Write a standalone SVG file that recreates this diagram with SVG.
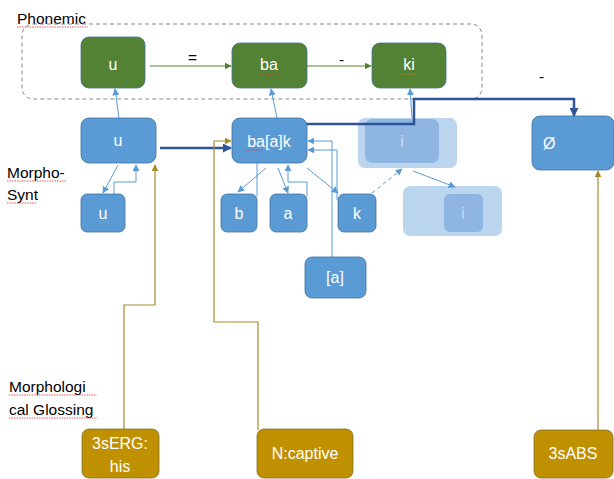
<svg xmlns="http://www.w3.org/2000/svg" width="614" height="479" viewBox="0 0 614 479">
<style>
  text { font-family: "Liberation Sans", Arial, sans-serif; }
  .lbl { font-size: 15.5px; fill: #000; }
  .wt { font-size: 16px; fill: #fff; text-anchor: middle; }
  .green { fill: #548235; stroke: #41719C; stroke-width: 0.8; }
  .blue { fill: #5B9BD5; stroke: #41719C; stroke-width: 0.8; }
  .gold { fill: #BF9000; stroke: #7F6F30; stroke-width: 0.8; }
  .fadeOut { fill: #BCD5EF; }
  .fadeIn { fill: #8FB5E3; }
  .fadeTxt { font-size: 16px; fill: #C8DCF2; text-anchor: middle; }
  .thin { fill: none; stroke: #5B9BD5; stroke-width: 1; }
  .gln { fill: none; stroke: #548235; stroke-width: 1; }
  .gd { fill: none; stroke: #A88C2C; stroke-width: 1.2; }
  .thick { fill: none; stroke: #2F5597; stroke-width: 2.5; }
  .squig { fill: none; stroke: #E03030; stroke-width: 0.8; stroke-dasharray: 1.5 1; }
</style>
<defs>
  <marker id="ab" viewBox="0 0 10 10" refX="9" refY="5" markerWidth="7" markerHeight="7" orient="auto-start-reverse" markerUnits="userSpaceOnUse">
    <path d="M0,0 L10,5 L0,10 z" fill="#5B9BD5"/>
  </marker>
  <marker id="ag" viewBox="0 0 10 10" refX="9" refY="5" markerWidth="7" markerHeight="7" orient="auto" markerUnits="userSpaceOnUse">
    <path d="M0,0 L10,5 L0,10 z" fill="#548235"/>
  </marker>
  <marker id="agd" viewBox="0 0 10 10" refX="9" refY="5" markerWidth="7" markerHeight="7" orient="auto" markerUnits="userSpaceOnUse">
    <path d="M0,0 L10,5 L0,10 z" fill="#A88C2C"/>
  </marker>
  <marker id="at" viewBox="0 0 10 10" refX="9" refY="5" markerWidth="9" markerHeight="9" orient="auto" markerUnits="userSpaceOnUse">
    <path d="M0,0 L10,5 L0,10 z" fill="#2F5597"/>
  </marker>
</defs>

<rect width="614" height="479" fill="#fff"/>

<!-- labels -->
<g id="labels">
  <text class="lbl" x="17" y="24">Phonemic</text>
  <text class="lbl" x="7" y="178">Morpho-</text>
  <text class="lbl" x="7" y="200">Synt</text>
  <text class="lbl" x="9" y="392">Morphologi</text>
  <text class="lbl" x="9" y="415">cal Glossing</text>
  <text class="lbl" x="188" y="63">=</text>
  <text class="lbl" x="339" y="65">-</text>
  <text class="lbl" x="539" y="82">-</text>
  <path class="squig" d="M17,27 H88 M7,181 H66 M7,203 H36 M9,395 H97 M9,418 H97"/>
</g>

<!-- phonemic group box -->
<rect id="phonemic-box" x="22" y="24" width="460" height="75" rx="11" fill="none" stroke="#8A8A8A" stroke-width="1" stroke-dasharray="4 3"/>

<!-- faded nodes -->
<g id="n-i1">
  <rect class="fadeOut" x="358" y="118" width="99" height="50" rx="7"/>
  <rect class="fadeIn" x="365" y="119" width="74" height="44" rx="7"/>
  <text class="fadeTxt" x="402" y="147">i</text>
</g>
<g id="n-i2">
  <rect class="fadeOut" x="403" y="186" width="99" height="50" rx="7"/>
  <rect class="fadeIn" x="444" y="194" width="39" height="38" rx="6"/>
  <text class="fadeTxt" x="463" y="219">i</text>
</g>

<!-- connectors -->
<g id="connectors">
  <!-- phonemic row -->
  <line class="gln" x1="150" y1="66" x2="231" y2="66" marker-end="url(#ag)"/>
  <line class="gln" x1="307" y1="66" x2="371" y2="66" marker-end="url(#ag)"/>
  <!-- up to phonemic -->
  <line class="thin" x1="119" y1="118" x2="115" y2="89" marker-end="url(#ab)"/>
  <line class="thin" x1="277" y1="118" x2="271" y2="89" marker-end="url(#ab)"/>
  <line class="thin" x1="412" y1="118" x2="410" y2="89" marker-end="url(#ab)"/>
  <!-- u subtree -->
  <line class="thin" x1="118" y1="165" x2="103" y2="193" marker-end="url(#ab)"/>
  <path class="thin" d="M114,194 V182 H136 V165" marker-end="url(#ab)"/>
  <!-- ba[a]k subtree -->
  <line class="thin" x1="266" y1="168" x2="238" y2="192" marker-end="url(#ab)"/>
  <line class="thin" x1="257" y1="163" x2="257" y2="196"/>
  <line class="thin" x1="278" y1="168" x2="288" y2="193" marker-end="url(#ab)"/>
  <path class="thin" d="M307,196 V182 H288 V165" marker-end="url(#ab)"/>
  <line class="thin" x1="307" y1="168" x2="338" y2="193" marker-end="url(#ab)"/>
  <path class="thin" d="M337,200 V150 H308" marker-end="url(#ab)"/>
  <path class="thin" d="M332,257 V141 H308" marker-end="url(#ab)"/>
  <!-- to faded i nodes -->
  <line class="thin" x1="372" y1="193" x2="402" y2="169" stroke-dasharray="4 3" marker-end="url(#ab)"/>
  <line class="thin" x1="413" y1="171" x2="455" y2="187" marker-end="url(#ab)"/>
  <!-- thick blue -->
  <line class="thick" x1="160" y1="148" x2="231" y2="148" marker-end="url(#at)"/>
  <path class="thick" d="M296,124 H414 V99 H574 V116" marker-end="url(#at)"/>
  <!-- gold glossing -->
  <path class="gd" d="M124,433 V305 H155 V165" marker-end="url(#agd)"/>
  <path class="gd" d="M258,430 V322 H214 V141 H231" marker-end="url(#agd)"/>
  <path class="gd" d="M598,447 V171" marker-end="url(#agd)"/>
</g>

<!-- phonemic nodes -->
<g id="p-u">
  <rect class="green" x="81" y="37" width="64" height="51" rx="8"/>
  <text class="wt" x="113" y="70">u</text>
</g>
<g id="p-ba">
  <rect class="green" x="232" y="43" width="75" height="45" rx="8"/>
  <text class="wt" x="269" y="70">ba</text>
  <path class="squig" d="M260,74 H279"/>
</g>
<g id="p-ki">
  <rect class="green" x="372" y="43" width="74" height="45" rx="8"/>
  <text class="wt" x="409" y="70">ki</text>
  <path class="squig" d="M402,74 H417" style="stroke:#D08020"/>
</g>

<!-- morpho-synt nodes -->
<g id="m-u">
  <rect class="blue" x="81" y="118" width="75" height="45" rx="8"/>
  <text class="wt" x="118" y="146">u</text>
</g>
<g id="m-u2">
  <rect class="blue" x="81" y="194" width="44" height="38" rx="6"/>
  <text class="wt" x="103" y="219">u</text>
</g>
<g id="m-bak">
  <rect class="blue" x="232" y="118" width="75" height="45" rx="8"/>
  <text class="wt" x="269" y="147">ba[a]k</text>
  <path class="squig" d="M246,150 H262"/>
</g>
<g id="m-b">
  <rect class="blue" x="221" y="194" width="36" height="38" rx="6"/>
  <text class="wt" x="239" y="219">b</text>
</g>
<g id="m-a">
  <rect class="blue" x="270" y="194" width="37" height="38" rx="6"/>
  <text class="wt" x="288" y="219">a</text>
</g>
<g id="m-k">
  <rect class="blue" x="338" y="194" width="38" height="38" rx="6"/>
  <text class="wt" x="357" y="219">k</text>
</g>
<g id="m-a2">
  <rect class="blue" x="305" y="257" width="61" height="41" rx="7"/>
  <text class="wt" x="335" y="283">[a]</text>
</g>
<g id="m-zero">
  <rect class="blue" x="532" y="116" width="82" height="54" rx="8"/>
  <text class="wt" x="543" y="149" style="text-anchor:start">Ø</text>
</g>

<!-- glossing nodes -->
<g id="g-erg">
  <rect class="gold" x="82" y="429" width="77" height="49" rx="7"/>
  <text class="wt" x="120" y="449">3sERG:</text>
  <text class="wt" x="120" y="472">his</text>
</g>
<g id="g-captive">
  <rect class="gold" x="257" y="429" width="96" height="49" rx="7"/>
  <text class="wt" x="305" y="459">N:captive</text>
</g>
<g id="g-abs">
  <rect class="gold" x="534" y="430" width="79" height="48" rx="7"/>
  <text class="wt" x="573" y="459">3sABS</text>
</g>
</svg>
